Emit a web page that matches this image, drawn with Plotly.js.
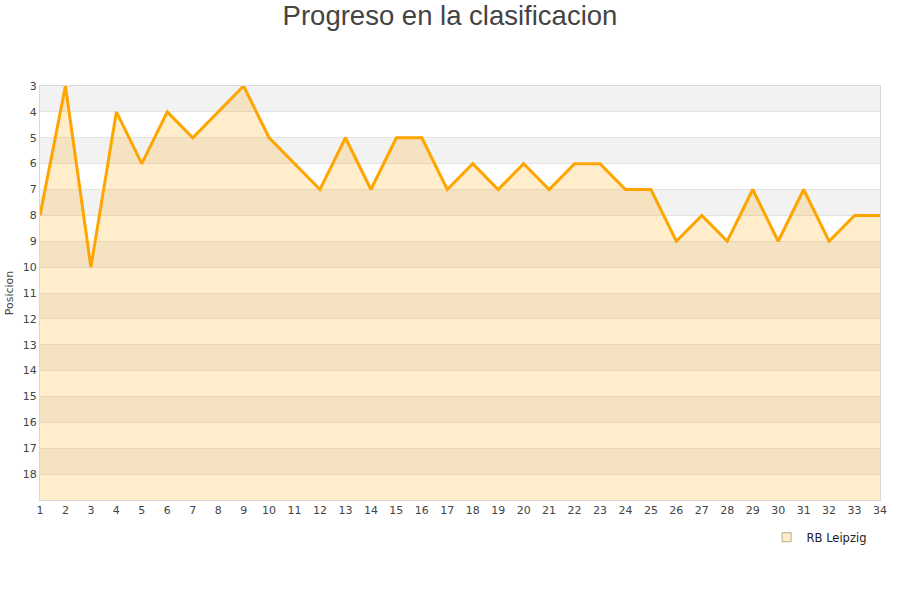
<!DOCTYPE html>
<html>
<head>
<meta charset="utf-8">
<script src="https://cdn.plot.ly/plotly-3.0.1.min.js"></script>
<style>
  html, body { margin: 0; padding: 0; background: #fff; }
  #chart { width: 900px; height: 600px; }
</style>
</head>
<body>
<div id="chart"></div>
<script>
// jornadas y posicion de RB Leipzig
var jornadas = [];
for (var j = 1; j <= 34; j++) jornadas.push(j);
var posiciones = [8, 3, 10, 4, 6, 4, 5, 4, 3, 5, 6, 7, 5, 7, 5, 5, 7, 6, 7, 6,
                  7, 6, 6, 7, 7, 9, 8, 9, 7, 9, 7, 9, 8, 8];
var equipo = 'RB Leipzig';
var posMin = 3;
var posMax = 19;

var base = jornadas.map(function () { return posMax; });

var data = [
    {
        x: jornadas,
        y: base,
        mode: 'lines',
        type: 'scatter',
        line: { color: 'rgba(0,0,0,0)', width: 0 },
        hoverinfo: 'skip',
        showlegend: false
    },
    {
        x: jornadas,
        y: posiciones,
        mode: 'lines',
        type: 'scatter',
        fill: 'tonexty',
        fillcolor: 'rgba(255,165,0,0.2)',
        line: { color: '#FFA500', width: 3 },
        name: equipo,
        showlegend: false
    },
    {
        x: [null],
        y: [null],
        mode: 'markers',
        type: 'scatter',
        marker: { symbol: 'square', size: 9, color: 'rgba(255,165,0,0.2)', line: { color: '#b8a88a', width: 1 } },
        name: equipo
    }
];

// bandas alternas grises
var shapes = [];
for (var p = posMin; p < posMax; p += 2) {
    shapes.push({
        type: 'rect', xref: 'paper', yref: 'y', x0: 0, x1: 1, y0: p, y1: p + 1,
        fillcolor: '#f2f2f2', line: { width: 0 }, layer: 'below'
    });
}

var ticksY = [];
for (var t = posMin; t < posMax; t++) ticksY.push(t);

var layout = {
    width: 900,
    height: 600,
    paper_bgcolor: '#fff',
    plot_bgcolor: '#fff',
    font: { family: 'DejaVu Sans, sans-serif', size: 11, color: '#444' },
    title: {
        text: 'Progreso en la clasificacion',
        font: { family: 'Liberation Sans, Arial, sans-serif', size: 27.5, color: '#444' },
        x: 0.5, xanchor: 'center', y: 0.99, yanchor: 'top'
    },
    margin: { l: 40, r: 20, t: 86, b: 100 },
    xaxis: {
        range: [1, 34],
        tickvals: jornadas,
        showgrid: false,
        zeroline: false,
        showline: true,
        mirror: true,
        linecolor: '#d9d9d9',
        ticks: '',
        tickfont: { size: 11, color: '#444' }
    },
    yaxis: {
        range: [posMax, posMin],
        tickvals: ticksY,
        showgrid: true,
        gridcolor: '#e3e3e3',
        zeroline: false,
        showline: true,
        mirror: true,
        linecolor: '#d9d9d9',
        ticks: '',
        tickfont: { size: 11, color: '#444' },
        title: { text: 'Posicion', font: { size: 11, color: '#444' }, standoff: 6 }
    },
    shapes: shapes,
    showlegend: true,
    legend: {
        x: 0.99, xanchor: 'right', y: -0.055, yanchor: 'top',
        orientation: 'h',
        font: { size: 11.5, color: '#222' },
        bgcolor: 'rgba(0,0,0,0)'
    }
};

Plotly.newPlot('chart', data, layout, { displayModeBar: false, staticPlot: true });
</script>
</body>
</html>
